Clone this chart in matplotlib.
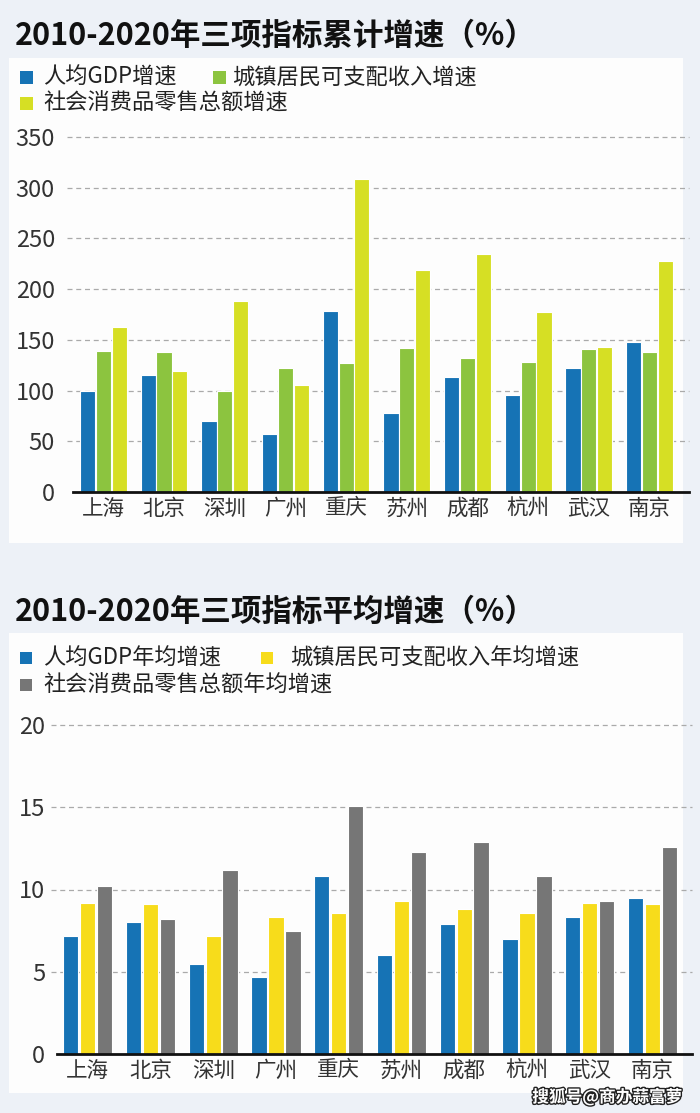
import matplotlib
matplotlib.use("Agg")
import matplotlib.pyplot as plt
from matplotlib.patches import Rectangle
import matplotlib.patheffects as pe
import numpy as np

plt.rcParams['font.family'] = ['Noto Sans CJK SC', 'DejaVu Sans']

cities = ['上海', '北京', '深圳', '广州', '重庆', '苏州', '成都', '杭州', '武汉', '南京']

# cumulative growth 2010-2020 (%)
gdp_total = [100, 115, 70, 57, 178, 78, 113, 96, 122, 148]
income_total = [139, 138, 100, 122, 127, 142, 132, 128, 141, 138]
retail_total = [163, 119, 188, 105, 309, 219, 235, 177, 143, 228]

# average annual growth 2010-2020 (%)
gdp_avg = [7.2, 8.0, 5.5, 4.7, 10.8, 6.0, 7.9, 7.0, 8.3, 9.5]
income_avg = [9.2, 9.1, 7.2, 8.3, 8.55, 9.3, 8.8, 8.6, 9.2, 9.1]
retail_avg = [10.2, 8.2, 11.2, 7.5, 15.1, 12.3, 12.9, 10.8, 9.3, 12.6]

top_labels = ['人均GDP增速', '城镇居民可支配收入增速', '社会消费品零售总额增速']
bot_labels = ['人均GDP年均增速', '城镇居民可支配收入年均增速', '社会消费品零售总额年均增速']

blue = '#1673b5'
green = '#8cc43f'
lime = '#d6df24'
yellow = '#f7dc1b'
grey = '#767676'
bg = '#edf1f7'

W, H = 700, 1113
fig = plt.figure(figsize=(W / 100, H / 100), dpi=100, facecolor=bg)


def px(x0, y0, x1, y1):
    # pixel box (top-left origin) -> figure fraction rect
    return [x0 / W, 1 - y1 / H, (x1 - x0) / W, (y1 - y0) / H]


# white panels behind the charts
for (x0, y0, x1, y1) in [(9, 58, 683, 543), (9, 633, 683, 1093)]:
    r = px(x0, y0, x1, y1)
    fig.patches.append(Rectangle((r[0], r[1]), r[2], r[3], transform=fig.transFigure,
                                 facecolor='#fdfdfd', edgecolor='none', zorder=-5))


def draw(ax, series, colors, width, step, ylim, yticks, ypad):
    x = np.arange(len(cities))
    for i, (vals, c) in enumerate(zip(series, colors)):
        ax.bar(x + (i - 1) * step, vals, width, color=c, edgecolor='white',
               linewidth=0.8, zorder=3)
    ax.set_facecolor('none')
    ax.set_ylim(*ylim)
    ax.set_yticks(yticks)
    ax.set_xticks(x)
    ax.set_xticklabels(cities, fontsize=15.5, color='#333333')
    ax.tick_params(axis='y', labelsize=17, labelcolor='#333333', length=0, pad=ypad)
    ax.tick_params(axis='x', length=0, pad=4)
    for s in ['top', 'right', 'left']:
        ax.spines[s].set_visible(False)
    ax.spines['bottom'].set_color('#111111')
    ax.spines['bottom'].set_linewidth(2)
    ax.spines['bottom'].set_zorder(4)
    for t in yticks[1:]:
        ax.axhline(t, xmin=-0.01, color='#aaaaaa', lw=0.9, ls=(0, (4, 3)), zorder=1,
                   clip_on=False)


ax1 = fig.add_axes(px(73, 137, 689, 492), zorder=2)
draw(ax1, [gdp_total, income_total, retail_total], [blue, green, lime],
     0.25, 0.26, (0, 350), list(range(0, 351, 50)), 13)
ax1.set_xlim(-0.5, 9.65)

ax2 = fig.add_axes(px(57, 725, 692, 1054), zorder=2)
draw(ax2, [gdp_avg, income_avg, retail_avg], [blue, yellow, grey],
     0.245, 0.27, (0, 20), [0, 5, 10, 15, 20], 8.5)
ax2.set_xlim(-0.49, 9.63)

# titles
fig.text(15 / W, 1 - 36 / H, '2010-2020年三项指标累计增速（%）', fontsize=22,
         fontweight='bold', color='#111111', va='center', ha='left')
fig.text(15 / W, 1 - 612 / H, '2010-2020年三项指标平均增速（%）', fontsize=22,
         fontweight='bold', color='#111111', va='center', ha='left')


def legend(labels, colors, items):
    # items: (square x, square size, text x, row y) in pixels
    for lab, c, (sx, sz, tx, ry) in zip(labels, colors, items):
        fig.patches.append(Rectangle((sx / W, 1 - (ry + sz / 2) / H), sz / W, sz / H,
                                     transform=fig.transFigure, facecolor=c,
                                     edgecolor='none', zorder=3))
        fig.text(tx / W, 1 - ry / H, lab, fontsize=16, color='#222222',
                 ha='left', va='center')


legend(top_labels, [blue, green, lime],
       [(20, 13, 43, 77), (213, 13, 232, 77), (20, 13, 43, 103)])
legend(bot_labels, [blue, yellow, grey],
       [(20, 12, 43, 658), (261, 12, 290, 658), (20, 12, 43, 685)])

fig.text(682 / W, 1 - 1097 / H, '搜狐号@商办蒜富萝', fontsize=12, color='white',
         ha='right', va='center', fontweight='bold',
         path_effects=[pe.withStroke(linewidth=2, foreground='#222222')])

fig.savefig('out.png', dpi=100, facecolor=bg)
